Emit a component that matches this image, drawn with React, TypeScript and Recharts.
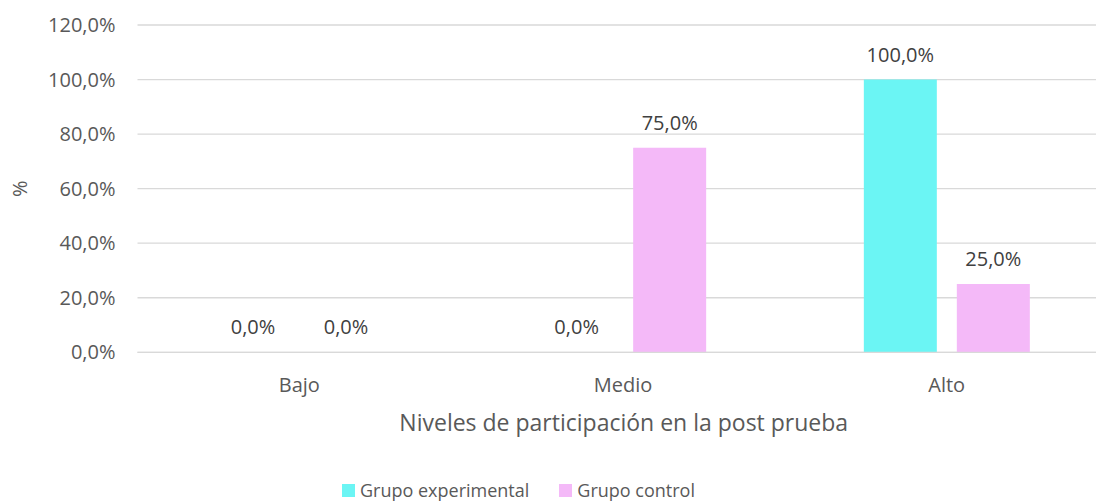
import React from "react";
import {
  BarChart,
  Bar,
  XAxis,
  YAxis,
  CartesianGrid,
  Legend,
  LabelList,
} from "recharts";

const categories = ["Bajo", "Medio", "Alto"];
const grupoExperimental = [0, 0, 100];
const grupoControl = [0, 75, 25];
const yTicks = [0, 20, 40, 60, 80, 100, 120];

const FONT = "'Open Sans', 'Noto Sans', sans-serif";
const CYAN = "#6bf5f4";
const PINK = "#f4b9f8";

const fmt = (v: number) => v.toFixed(1).replace(".", ",") + "%";

const data = categories.map((name, i) => ({
  name,
  experimental: grupoExperimental[i],
  control: grupoControl[i],
}));

function LegendBox() {
  const item = (color: string, text: string, ml: number) => (
    <div style={{ display: "flex", alignItems: "center", marginLeft: ml }}>
      <div style={{ width: 13, height: 13, background: color, marginRight: 5 }} />
      <span>{text}</span>
    </div>
  );
  return (
    <div
      style={{
        display: "flex",
        fontFamily: FONT,
        fontSize: 18,
        color: "#595959",
        lineHeight: "24px",
        height: 24,
      }}
    >
      {item(CYAN, "Grupo experimental", 0)}
      {item(PINK, "Grupo control", 30)}
    </div>
  );
}

export default function App() {
  return (
    <div
      style={{
        position: "fixed",
        left: 0,
        top: 0,
        width: 1096,
        height: 504,
        overflow: "hidden",
        background: "#fff",
      }}
    >
      <BarChart
        width={1096}
        height={504}
        data={data}
        margin={{ top: 25, right: 0, bottom: 67.7, left: 0 }}
        barSize={73}
        barGap={20}
        style={{ fontFamily: FONT }}
      >
        <CartesianGrid vertical={false} stroke="#d9d9d9" strokeWidth={1.3} />
        <XAxis
          dataKey="name"
          height={60}
          padding={{ left: 0, right: -12.5 }}
          tickSize={0}
          tickMargin={25}
          axisLine={{ stroke: "#d9d9d9", strokeWidth: 1.3 }}
          tickLine={false}
          tick={{ fill: "#595959", fontSize: 20 }}
          label={{
            value: "Niveles de participación en la post prueba",
            position: "bottom",
            offset: 2,
            fill: "#595959",
            fontSize: 23,
            dx: 7,
          }}
        />
        <YAxis
          width={137.5}
          domain={[0, 120]}
          ticks={yTicks}
          tickFormatter={fmt}
          tickSize={0}
          tickMargin={22}
          axisLine={false}
          tickLine={false}
          tick={{ fill: "#595959", fontSize: 20 }}
          label={{
            value: "%",
            content: (props: any) => {
              const vb = props.viewBox || { x: 0, y: 25, height: 327 };
              const x = vb.x + 20;
              const y = vb.y + vb.height / 2;
              return (
                <text
                  x={x}
                  y={y}
                  transform={`rotate(-90, ${x}, ${y})`}
                  textAnchor="middle"
                  dominantBaseline="central"
                  fill="#595959"
                  fontSize={20}
                  fontFamily={FONT}
                >
                  %
                </text>
              );
            },
          }}
        />
        <Legend
          content={() => <LegendBox />}
          wrapperStyle={{ left: 342, top: 478, bottom: "auto", width: "auto" }}
        />
        <Bar
          dataKey="experimental"
          name="Grupo experimental"
          fill={CYAN}
          minPointSize={0.01}
          isAnimationActive={false}
        >
          <LabelList
            dataKey="experimental"
            position="top"
            offset={18}
            formatter={(v: any) => fmt(Number(v))}
            fill="#404040"
            fontSize={20}
          />
        </Bar>
        <Bar
          dataKey="control"
          name="Grupo control"
          fill={PINK}
          minPointSize={0.01}
          isAnimationActive={false}
        >
          <LabelList
            dataKey="control"
            position="top"
            offset={18}
            formatter={(v: any) => fmt(Number(v))}
            fill="#404040"
            fontSize={20}
          />
        </Bar>
      </BarChart>
    </div>
  );
}
